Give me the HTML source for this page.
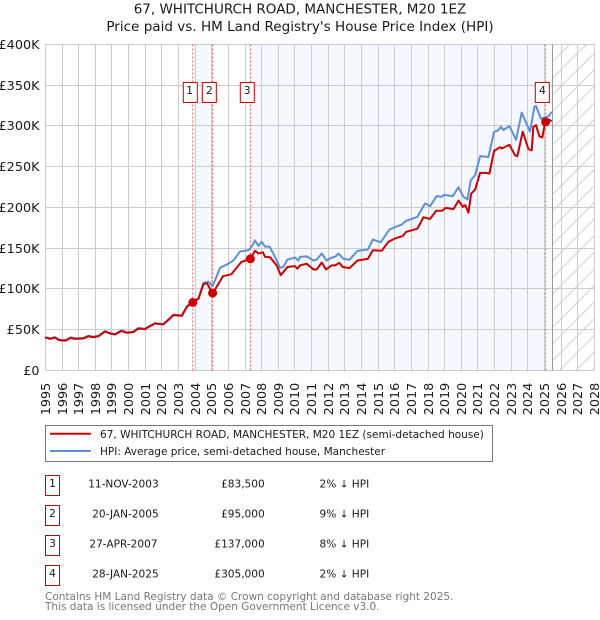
<!DOCTYPE html>
<html lang="en">
<head>
<meta charset="utf-8">
<title>67, Whitchurch Road price paid vs HPI</title>
<style>
html,body{margin:0;padding:0;background:#fff;}
svg{display:block;font-family:"DejaVu Sans","Liberation Sans",sans-serif;}
text{fill:#1a1a1a;}
.row{font-size:10.55px;}
.foot{font-size:10.5px;fill:#777;}
</style>
</head>
<body>
<svg id="chart" xmlns="http://www.w3.org/2000/svg" width="600" height="620" viewBox="0 0 600 620">
<defs>
<pattern id="hatch" patternUnits="userSpaceOnUse" width="16.6" height="16.6">
<path d="M-2,18.6 L18.6,-2 M-2,2 L2,-2 M14.6,18.6 L18.6,14.6" stroke="#d0d0d0" stroke-width="1" fill="none"/>
</pattern>
</defs>
<text x="300" y="13.5" text-anchor="middle" font-size="13.5">67, WHITCHURCH ROAD, MANCHESTER, M20 1EZ</text>
<text x="300" y="31" text-anchor="middle" font-size="13.55">Price paid vs. HM Land Registry's House Price Index (HPI)</text>
<g id="plot"></g>

<g>
<rect x="45.5" y="425.5" width="447" height="36" fill="#fff" stroke="#777" stroke-width="1"/>
<line x1="50" x2="91" y1="433.8" y2="433.8" stroke="#cc0000" stroke-width="2"/>
<text x="100" y="438" font-size="10.52">67, WHITCHURCH ROAD, MANCHESTER, M20 1EZ (semi-detached house)</text>
<line x1="50" x2="91" y1="451" y2="451" stroke="#5f8fd6" stroke-width="2"/>
<text x="100" y="455" font-size="10.52">HPI: Average price, semi-detached house, Manchester</text>
</g>

<g class="row">
<rect x="45.5" y="475.5" width="14" height="20" fill="#fff" stroke="#cc0000" stroke-width="1"/>
<text x="52.5" y="487" text-anchor="middle">1</text>
<text x="158.7" y="487.3" text-anchor="end">11-NOV-2003</text>
<text x="264.7" y="487.3" text-anchor="end">£83,500</text>
<text x="319.5" y="487.3">2% ↓ HPI</text>
</g>
<g class="row">
<rect x="45.5" y="505.5" width="14" height="20" fill="#fff" stroke="#cc0000" stroke-width="1"/>
<text x="52.5" y="517" text-anchor="middle">2</text>
<text x="158.7" y="517.3" text-anchor="end">20-JAN-2005</text>
<text x="264.7" y="517.3" text-anchor="end">£95,000</text>
<text x="319.5" y="517.3">9% ↓ HPI</text>
</g>
<g class="row">
<rect x="45.5" y="535.5" width="14" height="20" fill="#fff" stroke="#cc0000" stroke-width="1"/>
<text x="52.5" y="547" text-anchor="middle">3</text>
<text x="157.5" y="547.3" text-anchor="end">27-APR-2007</text>
<text x="264.7" y="547.3" text-anchor="end">£137,000</text>
<text x="319.5" y="547.3">8% ↓ HPI</text>
</g>
<g class="row">
<rect x="45.5" y="565.5" width="14" height="20" fill="#fff" stroke="#cc0000" stroke-width="1"/>
<text x="52.5" y="577" text-anchor="middle">4</text>
<text x="158.7" y="577.3" text-anchor="end">28-JAN-2025</text>
<text x="264.7" y="577.3" text-anchor="end">£305,000</text>
<text x="319.5" y="577.3">2% ↓ HPI</text>
</g>

<text class="foot" x="45" y="600">Contains HM Land Registry data © Crown copyright and database right 2025.</text>
<text class="foot" x="45" y="610">This data is licensed under the Open Government Licence v3.0.</text>
</svg>
<script>
const xTicks = [1995,1996,1997,1998,1999,2000,2001,2002,2003,2004,2005,2006,2007,2008,2009,2010,2011,2012,2013,2014,2015,2016,2017,2018,2019,2020,2021,2022,2023,2024,2025,2026,2027,2028];
const yTicks = [0,50,100,150,200,250,300,350,400];
const yTickLabels = ['£0','£50K','£100K','£150K','£200K','£250K','£300K','£350K','£400K'];
const saleDates = [2003.86,2005.05,2007.32,2025.07];
const salePrices = [83.5,95,137,305];
const saleNumbers = ['1','2','3','4'];
const shadeStarts = [2004,2007.32];
const shadeEnds = [2005.05,2025.07];
const forecastStart = 2025.5;
const axisEndYear = 2028;

const paidDates = [1995,1995.08,1995.28,1995.58,1995.78,1995.98,1996.24,1996.52,1996.78,1997.28,1997.58,1997.88,1998.18,1998.58,1998.88,1999.18,1999.58,1999.88,2000.28,2000.58,2000.98,2001.58,2002.08,2002.48,2002.7,2003.2,2003.5,2003.84,2004.2,2004.5,2004.72,2004.85,2005.05,2005.27,2005.67,2006.17,2006.77,2007.32,2007.6,2007.8,2008.07,2008.2,2008.5,2008.9,2009.15,2009.55,2010,2010.15,2010.31,2010.71,2011.11,2011.31,2011.61,2011.87,2012.21,2012.41,2012.67,2012.87,2013.28,2013.76,2014.38,2014.68,2015.22,2015.62,2016.02,2016.48,2016.68,2017.02,2017.36,2017.72,2018.12,2018.49,2018.83,2019.07,2019.53,2019.83,2020.09,2020.23,2020.43,2020.59,2020.83,2021.13,2021.43,2021.69,2021.97,2022.33,2022.43,2022.89,2023.23,2023.37,2023.69,2024.03,2024.23,2024.33,2024.49,2024.69,2024.87,2025.05,2025.24,2025.44];
const paidValues = [40,40,38.8,40.4,37.6,36.8,36.8,40,38.8,39.2,42,40.8,42,47.8,45.4,44.1,48.6,46.2,47,51.5,50.7,57.6,56.4,63.7,68,67,78,83.5,88,106,107,102,94,102,115.7,118,133,137,147,143.5,145,139.5,139,129,117,127,128,125,129,131,124,124,132.5,124,129,129,132,127,125.6,135,137,147.6,147,158,162,165,170,172,174,188,186,196,196,199.6,198,208.5,200.8,202.8,193.8,217,222,242.5,242.5,241.7,269.5,274,272.4,277,264,263,293,272,270,299,301,287.5,286,305.8,308,306];

const hpiDates = [1994.95,1995.08,1995.28,1995.58,1995.78,1995.98,1996.24,1996.52,1996.78,1997.28,1997.58,1997.88,1998.18,1998.58,1998.88,1999.18,1999.58,1999.88,2000.28,2000.58,2000.98,2001.58,2002.08,2002.48,2002.7,2003.2,2003.5,2003.84,2004.2,2004.5,2004.8,2005.05,2005.5,2005.9,2006.3,2006.7,2007.2,2007.4,2007.6,2007.8,2008,2008.2,2008.47,2008.8,2009.1,2009.3,2009.55,2010,2010.2,2010.31,2010.71,2011.11,2011.31,2011.61,2011.91,2012.21,2012.41,2012.61,2012.91,2013.28,2013.76,2014.38,2014.68,2015.16,2015.68,2016.02,2016.42,2016.68,2017.02,2017.36,2017.82,2018.12,2018.52,2018.82,2018.96,2019.49,2019.83,2020.13,2020.37,2020.57,2020.83,2021.13,2021.63,2021.97,2022.17,2022.39,2022.53,2022.89,2023.29,2023.63,2024.13,2024.39,2024.49,2024.78,2025.24,2025.44];
const hpiValues = [40.5,40.6,39.4,41,38.2,37.4,37.4,40.6,39.4,39.8,42.6,41.4,42.6,48.4,46,44.7,49.2,46.8,47.6,52.1,51.3,58.2,57,64.3,68.6,67.6,78.6,85,88.5,107.5,109,103.5,126,130,135,146,147.6,152,159.5,153,158,152,152,139.5,126,127,136,138.6,135,139.4,140,135,136,143.5,135,138.6,139.4,143.5,137,136,146.8,148.4,160.7,157.4,173,176,179,183.6,186,188.5,205,201.6,214,213,215.5,214,225,213,210,233.5,239.6,263,262,293,294,299,295,300,283,316.5,293,323.4,324.7,309,312,317.4];

const SVG_NS = 'http://www.w3.org/2000/svg';
const plot = document.getElementById('plot');
const plotLeft = 45.4, plotRight = 594.4, plotTop = 44.5, plotBottom = 370.5;
const yMax = yTicks[yTicks.length - 1];
function xScale(year) { return plotLeft + (year - xTicks[0]) * (plotRight - plotLeft) / (axisEndYear - xTicks[0]); }
function yScale(value) { return plotBottom - value * (plotBottom - plotTop) / yMax; }
function snapX(x) { return Math.floor(x) + 0.5; }
function snapY(y) { return Math.floor(y - 0.2) + 0.5; }
function make(tag, attrs, text) {
  const el = document.createElementNS(SVG_NS, tag);
  Object.keys(attrs).forEach(function (k) { el.setAttribute(k, attrs[k]); });
  if (text !== undefined) el.textContent = text;
  plot.appendChild(el);
  return el;
}
function linePath(xs, ys) {
  return xs.map(function (d, i) { return (i ? 'L' : 'M') + xScale(d).toFixed(2) + ',' + yScale(ys[i]).toFixed(2); }).join(' ');
}

shadeStarts.forEach(function (start, i) {
  const band = make('rect', {x: xScale(start), y: plotTop, width: xScale(shadeEnds[i]) - xScale(start), height: plotBottom - plotTop, fill: '#f5f8ff'});
  
  
});

const hatch = make('rect', {x: xScale(forecastStart), y: plotTop, width: plotRight - xScale(forecastStart), height: plotBottom - plotTop, fill: 'url(#hatch)'});



xTicks.forEach(function (year) {
  const px = snapX(xScale(year));
  const grid = make('line', {x1: px, x2: px, y1: plotTop, y2: plotBottom, stroke: '#cccccc', 'stroke-width': 1});
  
  
  const label = make('text', {transform: 'translate(' + (px + 4.7) + ',415.3) rotate(-90)', 'font-size': 12.8}, String(year));
  
  
});

yTicks.forEach(function (value, i) {
  const py = snapY(yScale(value));
  const grid = make('line', {x1: plotLeft, x2: plotRight, y1: py, y2: py, stroke: '#cccccc', 'stroke-width': 1});
  
  
  const label = make('text', {x: 39.5, y: py + 4.7, 'text-anchor': 'end', 'font-size': 12.8}, yTickLabels[i]);
  
  
});

const forecastLine = make('line', {x1: snapX(xScale(forecastStart)), x2: snapX(xScale(forecastStart)), y1: plotTop, y2: plotBottom, stroke: '#999999', 'stroke-width': 1});



saleDates.forEach(function (d) {
  const px = xScale(d);
  const v = make('line', {x1: px, x2: px, y1: plotTop, y2: plotBottom, stroke: '#ee5555', 'stroke-width': 1, 'stroke-dasharray': '2 2'});
  
  
});

const hpiLine = make('path', {d: linePath(hpiDates, hpiValues), fill: 'none', stroke: '#5f8fd6', 'stroke-width': 2, 'stroke-linejoin': 'round'});



const paidLine = make('path', {d: linePath(paidDates, paidValues), fill: 'none', stroke: '#cc0000', 'stroke-width': 2, 'stroke-linejoin': 'round'});



saleDates.forEach(function (d, i) {
  const px = xScale(d);
  const dot = make('circle', {cx: px, cy: yScale(salePrices[i]), r: 4.5, fill: '#cc0000'});
  
  
  const box = make('rect', {x: Math.round(px - 3.2 - 7) + 0.5 - 0.2, y: 82.5, width: 14, height: 20, fill: '#fff', stroke: '#cc0000', 'stroke-width': 1});
  
  
  const num = make('text', {x: px - 3.2, y: 94, 'text-anchor': 'middle', 'font-size': 11}, saleNumbers[i]);
  
  
});
</script>
</body>
</html>
